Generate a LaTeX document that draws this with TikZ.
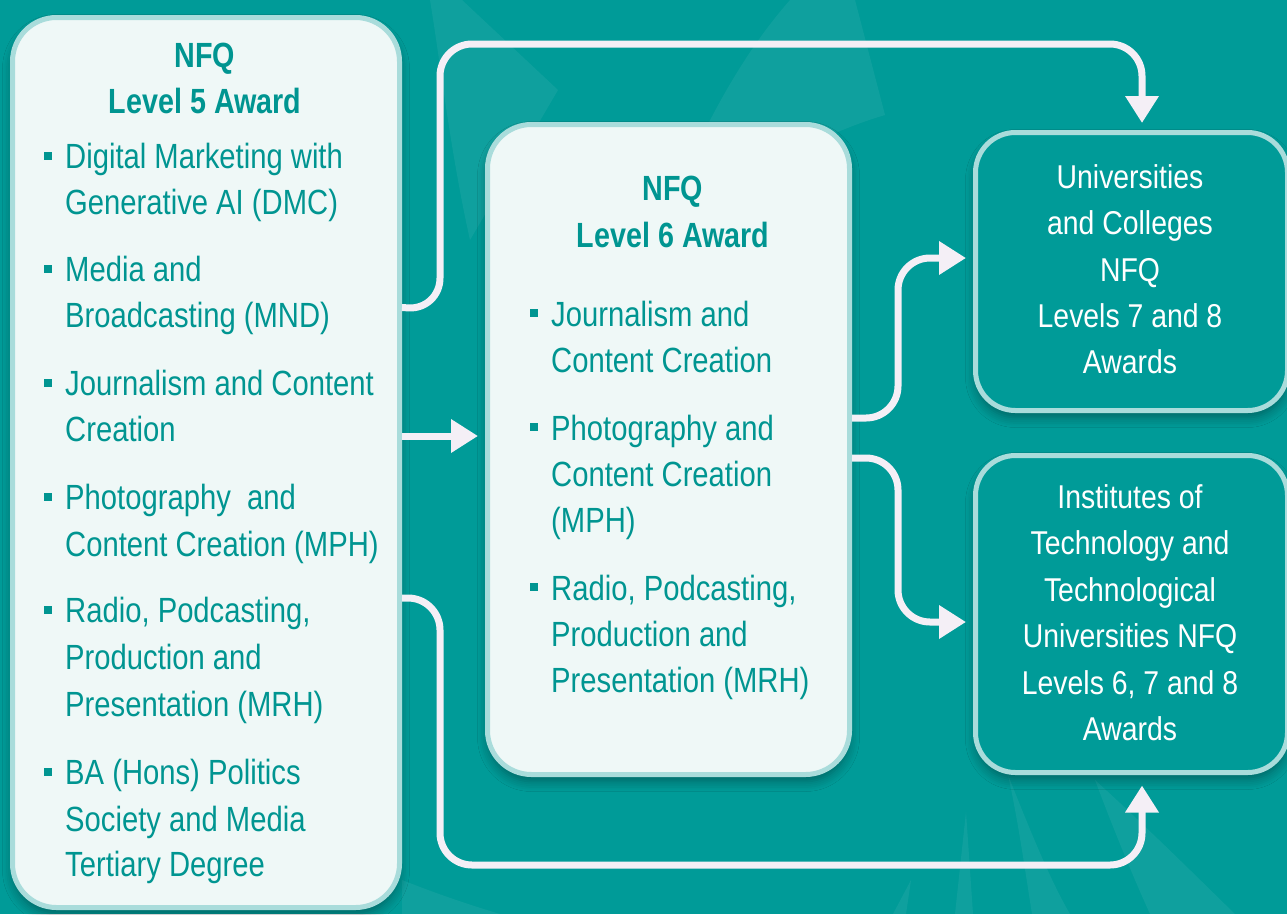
\documentclass[tikz,border=0pt]{standalone}
\usepackage{fontspec}
\setmainfont{Liberation Sans}[FakeStretch=0.86,BoldFeatures={FakeStretch=0.82}]
\newfontfamily\listfont{Liberation Sans}[FakeStretch=0.835]
\usepackage{xcolor}
\usetikzlibrary{positioning,arrows.meta,calc,shadows.blur}

\definecolor{bgteal}{HTML}{009B98}
\definecolor{txtteal}{HTML}{009591}
\definecolor{panelfill}{HTML}{EFF8F7}
\definecolor{panelrim}{HTML}{A9DCDB}
\definecolor{flowwhite}{HTML}{F4EFF6}

\begin{document}
\begin{tikzpicture}[x=1pt,y=-1pt,
  panel/.style={draw=panelrim,line width=5pt,fill=panelfill,rounded corners=44pt,
    inner sep=0pt,blur shadow={shadow xshift=0pt,shadow yshift=-7pt,
    shadow blur steps=6,shadow opacity=35,shadow blur radius=10pt}},
  dest/.style={panel,fill=bgteal,rounded corners=40pt},
  head/.style={font=\bfseries\fontsize{35}{46}\selectfont,text=txtteal,anchor=base},
  item/.style={font=\listfont\fontsize{35}{46}\selectfont,text=txtteal,anchor=base west,inner sep=0pt},
  desttxt/.style={font=\fontsize{33}{46}\selectfont,text=white,anchor=base,inner sep=0pt},
  flow/.style={draw=flowwhite,line width=7pt,rounded corners=32pt,
    -{Triangle[width=32pt,length=27pt]}},
  glint/.style={fill=white,opacity=0.06}]

  % canvas
  \fill[bgteal] (0,0) rectangle (1287,914);
  \useasboundingbox (0,0) rectangle (1287,914);
  \clip (0,0) rectangle (1287,914);

  % faint swooshes in the back
  \fill[glint] (430,0) -- (462,0) -- (558,90) -- (470,240) .. controls (450,150) and (440,60) .. (430,0) -- cycle;
  \fill[glint] (790,0) -- (855,0) -- (885,115) .. controls (800,140) and (700,200) .. (630,300)
    .. controls (680,180) and (720,80) .. (790,0) -- cycle;
  \fill[glint] (966,812) -- (973,914) -- (955,914) -- cycle;
  \fill[glint] (911,880) -- (906,914) -- (893,914) -- cycle;
  \fill[glint] (1008,775) .. controls (1030,830) and (1050,880) .. (1070,914) -- (1032,914)
    .. controls (1025,870) and (1018,820) .. (1008,775) -- cycle;
  \fill[glint] (1095,780) .. controls (1150,830) and (1200,880) .. (1235,914) -- (1150,914)
    .. controls (1130,870) and (1110,820) .. (1095,780) -- cycle;
  \fill[glint] (402,880) .. controls (440,895) and (470,905) .. (500,914) -- (402,914) -- cycle;

  % boxes
  \node[panel,minimum width=387pt,minimum height=890pt] (lvl5) at (206,462.5) {};
  \node[panel,minimum width=362pt,minimum height=650pt] (lvl6) at (668.5,449.5) {};
  \node[dest,minimum width=312pt,minimum height=278pt] (uni) at (1131.5,271.5) {};
  \node[dest,minimum width=312pt,minimum height=317pt] (inst) at (1131.5,614) {};

  % level 5 list
  \node[head] (h5a) at (205,67) {NFQ};
  \node[head] (h5b) at (205,113) {Level 5 Award};
  \foreach \n/\y/\t in {
     a1/168/{Digital Marketing with},
     a2/214/{Generative AI (DMC)},
     a3/281/{Media and},
     a4/327/{Broadcasting (MND)},
     a5/395/{Journalism and Content},
     a6/441/{Creation},
     a7/509/{Photography\ \ and},
     a8/556/{Content Creation (MPH)},
     a9/622/{Radio, Podcasting,},
     a10/669/{Production and},
     a11/716/{Presentation (MRH)},
     a12/784/{BA (Hons) Politics},
     a13/831/{Society and Media},
     a14/876/{Tertiary Degree}}
    \node[item] (\n) at (65,\y) {\t};
  \foreach \y in {168,281,395,509,622,784}
    \fill[txtteal] (44,\y-16) rectangle (52,\y-8);

  % level 6 list
  \node[head] (h6a) at (673,200) {NFQ};
  \node[head] (h6b) at (673,247) {Level 6 Award};
  \foreach \n/\y/\t in {
     b1/326/{Journalism and},
     b2/372/{Content Creation},
     b3/440/{Photography and},
     b4/486/{Content Creation},
     b5/532/{(MPH)},
     b6/600/{Radio, Podcasting,},
     b7/646/{Production and},
     b8/692/{Presentation (MRH)}}
    \node[item] (\n) at (551,\y) {\t};
  \foreach \y in {326,440,600}
    \fill[txtteal] (530,\y-17) rectangle (538,\y-9);

  % destinations
  \foreach \n/\y/\t in {
     c1/188/{Universities},
     c2/234/{and Colleges},
     c3/281/{NFQ},
     c4/327/{Levels 7 and 8},
     c5/373/{Awards}}
    \node[desttxt] (\n) at (1130,\y) {\t};
  \foreach \n/\y/\t in {
     d1/508/{Institutes of},
     d2/554/{Technology and},
     d3/601/{Technological},
     d4/647/{Universities NFQ},
     d5/694/{Levels 6, 7 and 8},
     d6/740/{Awards}}
    \node[desttxt] (\n) at (1130,\y) {\t};

  % routes
  \draw[flow] ([yshift=-292.5pt]lvl5.north east) -- (440,310) -- (440,44) -- (1142,44)
    -- ([xshift=10.5pt,yshift=7pt]uni.north);
  \draw[flow] ([yshift=26.5pt]lvl5.east) -- ([xshift=-7pt,yshift=13.5pt]lvl6.west);
  \draw[flow] ([yshift=31.5pt]lvl6.east) -- (898,418) -- (898,258)
    -- ([xshift=-7pt,yshift=13.5pt]uni.west);
  \draw[flow] ([yshift=-8.5pt]lvl6.east) -- (898,458) -- (898,622)
    -- ([xshift=-7pt,yshift=-8pt]inst.west);
  \draw[flow] ([yshift=-135.5pt]lvl5.east) -- (440,598) -- (440,865) -- (1142,865)
    -- ([xshift=10.5pt,yshift=-10.5pt]inst.south);
\end{tikzpicture}
\end{document}
